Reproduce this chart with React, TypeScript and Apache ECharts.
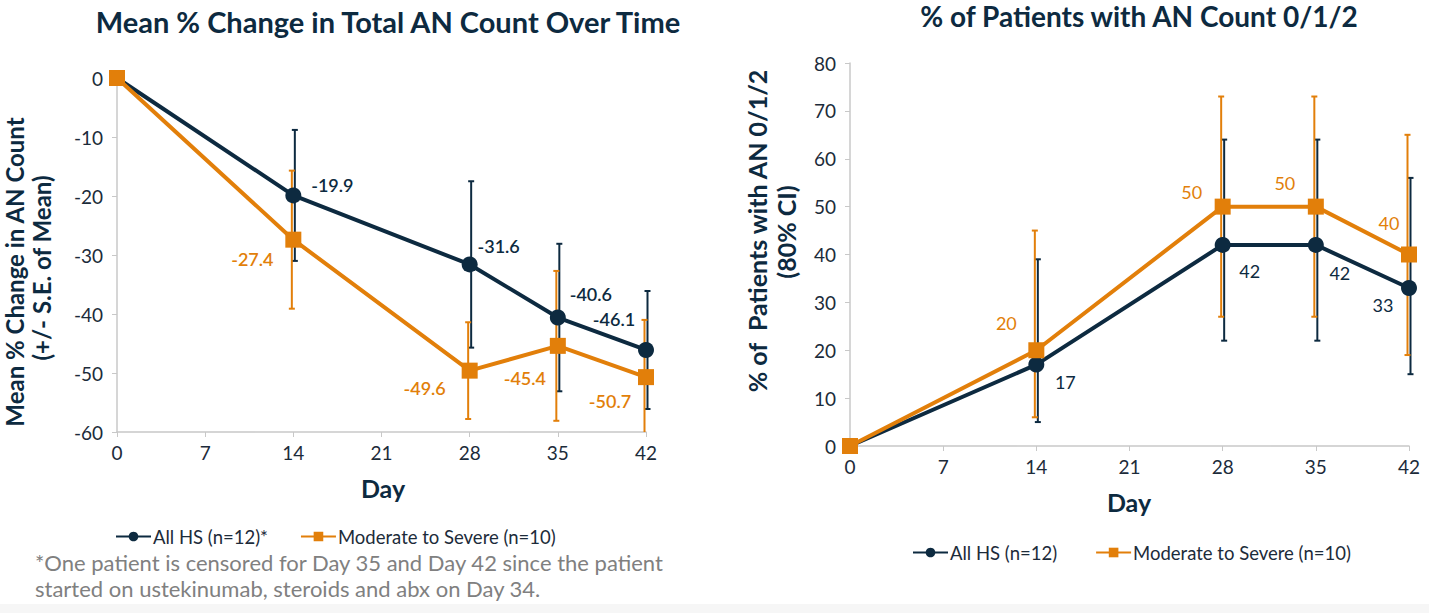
import React, { useEffect, useRef } from "react";
import * as echarts from "echarts";

const days = [0, 14, 28, 35, 42];

// Left chart: mean % change
const leftNavy = [0, -19.9, -31.6, -40.6, -46.1];
const leftOrange = [0, -27.4, -49.6, -45.4, -50.7];
const leftNavyLow = [null, -31.0, -45.7, -53.1, -56.1];
const leftNavyHigh = [null, -8.8, -17.5, -28.1, -36.1];
const leftOrangeLow = [null, -39.1, -57.8, -58.1, -60.4];
const leftOrangeHigh = [null, -15.7, -41.4, -32.7, -41.0];

// Right chart: % patients with AN 0/1/2
const rightNavy = [0, 17, 42, 42, 33];
const rightOrange = [0, 20, 50, 50, 40];
const rightNavyLow = [null, 5, 22, 22, 15];
const rightNavyHigh = [null, 39, 64, 64, 56];
const rightOrangeLow = [null, 6, 27, 27, 19];
const rightOrangeHigh = [null, 45, 73, 73, 65];

// label offsets (styling)
const leftNavyOff = [null, [39, -10], [29, -18], [33, -24], [-32, -31]];
const leftOrangeOff = [null, [-41, 19], [-45, 17], [-33, 32], [-36, 24]];
const rightNavyOff = [null, [29, 17], [27, 26], [24, 28], [-26, 17]];
const rightOrangeOff = [null, [-30, -27], [-31, -15], [-31, -24], [-20, -32]];

const NAVY = "#0d2a40";
const ORANGE = "#e27f0a";
const AXIS = "#c8c8c8";
const TXT = "#1c2b3a";
const FONT = "Lato";

function lineData(vals: number[], offs: any[], color: string, weight: any) {
  return vals.map((v, i) => {
    const item: any = { value: [days[i], v] };
    if (offs[i]) {
      item.label = {
        show: true,
        position: "inside",
        offset: offs[i],
        color,
        fontSize: 18,
        fontFamily: FONT,
        fontWeight: weight,
        formatter: String(v),
      };
    } else {
      item.label = { show: false };
    }
    return item;
  });
}

function errData(low: any[], high: any[]) {
  const out: any[] = [];
  days.forEach((d, i) => {
    if (low[i] !== null) out.push([d, low[i], high[i]]);
  });
  return out;
}

function errSeries(name: string, data: any[], color: string, gridIdx: number, dx: number) {
  return {
    type: "custom",
    name,
    xAxisIndex: gridIdx,
    yAxisIndex: gridIdx,
    clip: false,
    z: 2,
    silent: true,
    data,
    renderItem: (params: any, api: any) => {
      const cs = params.coordSys;
      const top = cs.y;
      const bottom = cs.y + cs.height;
      const x = api.value(0);
      const lo = api.coord([x, api.value(1)]);
      const hi = api.coord([x, api.value(2)]);
      const px = lo[0] + dx;
      const cap = 3;
      const st = { stroke: color, lineWidth: 2 };
      const yLo = Math.min(bottom, Math.max(top, lo[1]));
      const yHi = Math.min(bottom, Math.max(top, hi[1]));
      const children: any[] = [
        { type: "line", shape: { x1: px, y1: yLo, x2: px, y2: yHi }, style: st },
      ];
      if (lo[1] <= bottom) children.push({ type: "line", shape: { x1: px - cap, y1: yLo, x2: px + cap, y2: yLo }, style: st });
      if (hi[1] >= top) children.push({ type: "line", shape: { x1: px - cap, y1: yHi, x2: px + cap, y2: yHi }, style: st });
      return { type: "group", children };
    },
  };
}

function xAxis(gridIndex: number) {
  return {
    type: "value",
    gridIndex,
    min: 0,
    max: 42,
    interval: 7,
    axisLine: { show: true, onZero: false, lineStyle: { color: AXIS, width: 1.5 } },
    axisTick: { show: true, length: 5, lineStyle: { color: AXIS } },
    axisLabel: { color: TXT, fontSize: 19, fontFamily: FONT, margin: 11 },
    splitLine: { show: false },
  };
}

function yAxis(gridIndex: number, min: number, max: number) {
  return {
    type: "value",
    gridIndex,
    min,
    max,
    interval: 10,
    axisLine: { show: true, onZero: false, lineStyle: { color: AXIS, width: 1.5 } },
    axisTick: { show: true, length: 5, lineStyle: { color: AXIS } },
    axisLabel: { color: TXT, fontSize: 19, fontFamily: FONT, margin: 14 },
    splitLine: { show: false },
  };
}

function lineSeries(name: string, data: any[], color: string, symbol: string, size: number, gridIdx: number, z: number) {
  return {
    type: "line",
    name,
    xAxisIndex: gridIdx,
    yAxisIndex: gridIdx,
    data,
    symbol,
    symbolSize: size,
    z,
    lineStyle: { color, width: 4 },
    itemStyle: { color },
    emphasis: { disabled: true },
  };
}

export default function App() {
  const ref = useRef<HTMLDivElement>(null);
  useEffect(() => {
    if (!ref.current) return;
    const chart = echarts.init(ref.current, null, { renderer: "svg" });
    const titleStyle = { fontFamily: FONT, fontWeight: "bold", fill: NAVY, textAlign: "center", textVerticalAlign: "middle" };
    const nameStyle = { fontFamily: FONT, fontWeight: "bold", fontSize: 25, fill: NAVY, textAlign: "center", textVerticalAlign: "middle" };
    const noteStyle = { fontFamily: FONT, fontSize: 22, fill: "#808080", textVerticalAlign: "middle" };
    const legendText = { color: TXT, fontSize: 18.5, fontFamily: FONT, padding: [0, 0, 0, -3] };
    const option: any = {
      animation: false,
      backgroundColor: "#ffffff",
      grid: [
        { left: 117, top: 78, width: 529, height: 354 },
        { left: 850, top: 63, width: 559, height: 383 },
      ],
      xAxis: [xAxis(0), xAxis(1)],
      yAxis: [yAxis(0, -60, 0), yAxis(1, 0, 80)],
      legend: [
        {
          left: 110,
          top: 522,
          itemWidth: 35,
          itemHeight: 12,
          itemGap: 32,
          data: ["All HS (n=12)*", "Moderate to Severe (n=10)"],
          textStyle: legendText,
          selectedMode: false,
        },
        {
          left: 907,
          top: 538,
          itemWidth: 35,
          itemHeight: 12,
          itemGap: 38,
          data: ["All HS (n=12)", "Moderate to Severe (n=10) "],
          textStyle: legendText,
          selectedMode: false,
        },
      ],
      series: [
        errSeries("e1", errData(leftNavyLow, leftNavyHigh), NAVY, 0, 1.5),
        errSeries("e2", errData(leftOrangeLow, leftOrangeHigh), ORANGE, 0, -1.5),
        lineSeries("All HS (n=12)*", lineData(leftNavy, leftNavyOff, NAVY, 600), NAVY, "circle", 16, 0, 3),
        lineSeries("Moderate to Severe (n=10)", lineData(leftOrange, leftOrangeOff, ORANGE, 600), ORANGE, "rect", 16, 0, 4),
        errSeries("e3", errData(rightNavyLow, rightNavyHigh), NAVY, 1, 1.5),
        errSeries("e4", errData(rightOrangeLow, rightOrangeHigh), ORANGE, 1, -1.5),
        lineSeries("All HS (n=12)", lineData(rightNavy, rightNavyOff, NAVY, "normal"), NAVY, "circle", 16, 1, 3),
        lineSeries("Moderate to Severe (n=10) ", lineData(rightOrange, rightOrangeOff, ORANGE, "normal"), ORANGE, "rect", 16, 1, 4),
      ],
      graphic: [
        { type: "rect", shape: { x: 0, y: 604, width: 1429, height: 9 }, style: { fill: "#f6f6f6" }, silent: true },
        { type: "text", x: 388, y: 21, style: { ...titleStyle, fontSize: 29, text: "Mean % Change in Total AN Count Over Time" } },
        { type: "text", x: 1139, y: 16, style: { ...titleStyle, fontSize: 28, text: "% of Patients with AN Count 0/1/2" } },
        { type: "text", x: 383, y: 488, style: { ...nameStyle, text: "Day" } },
        { type: "text", x: 1129, y: 502, style: { ...nameStyle, text: "Day" } },
        { type: "text", x: 14, y: 272, rotation: Math.PI / 2, style: { ...nameStyle, fontSize: 24, text: "Mean % Change in AN Count" } },
        { type: "text", x: 41, y: 268, rotation: Math.PI / 2, style: { ...nameStyle, fontSize: 24, text: "(+/- S.E. of Mean)" } },
        { type: "text", x: 757, y: 231, rotation: Math.PI / 2, style: { ...nameStyle, text: "% of  Patients with AN 0/1/2" } },
        { type: "text", x: 786, y: 232, rotation: Math.PI / 2, style: { ...nameStyle, text: "(80% CI)" } },
        { type: "text", x: 35, y: 562, style: { ...noteStyle, text: "*One patient is censored for Day 35 and Day 42 since the patient" } },
        { type: "text", x: 35, y: 588, style: { ...noteStyle, text: "started on ustekinumab, steroids and abx on Day 34." } },
      ],
    };
    chart.setOption(option);
    return () => chart.dispose();
  }, []);
  return (
    <div
      ref={ref}
      style={{ position: "absolute", left: 0, top: 0, width: 1429, height: 613 }}
    />
  );
}
